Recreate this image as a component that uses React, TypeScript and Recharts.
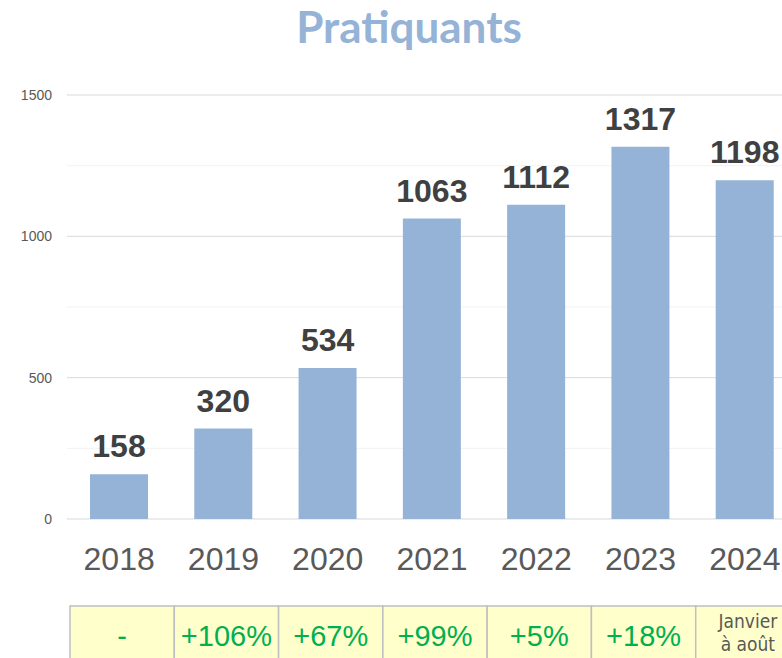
import { BarChart, Bar, XAxis, YAxis, CartesianGrid, LabelList } from 'recharts'

const years = ['2018', '2019', '2020', '2021', '2022', '2023', '2024']
const pratiquants = [158, 320, 534, 1063, 1112, 1317, 1198]
const evolution = ['-', '+106%', '+67%', '+99%', '+5%', '+18%', 'Janvier|à août']
const yTicks = [0, 500, 1000, 1500]
const minorTicks = [250, 750, 1250]

const data = years.map((year, i) => ({ year, value: pratiquants[i], evo: evolution[i] }))

const CHART_W = 797
const PLOT_LEFT = 67
const BAND = (CHART_W - PLOT_LEFT) / years.length

const YearTick = (props: any) => {
  const { x, y, payload, index } = props
  const evo = data[index]?.evo ?? ''
  const lines = evo.split('|')
  const left = x - BAND / 2 + 3
  return (
    <g>
      <text x={x} y={y + 51} textAnchor="middle" fontSize={32} fill="#595959" fontFamily="Arial, 'Liberation Sans', sans-serif">
        {payload.value}
      </text>
      <rect x={left} y={y + 87} width={BAND} height={60} fill="#FFFFCC" stroke="#BFBFBF" strokeWidth={1.5} />
      {lines.length > 1 ? (
        <text textAnchor="middle" fontSize={19} fill="#595959" fontFamily="'Liberation Sans Narrow', 'DejaVu Sans Condensed', 'Arial Narrow', sans-serif">
          <tspan x={left + BAND / 2} y={y + 109}>{lines[0]}</tspan>
          <tspan x={left + BAND / 2} y={y + 132}>{lines[1]}</tspan>
        </text>
      ) : (
        <text x={left + BAND / 2} y={y + 127} textAnchor="middle" fontSize={29} fill="#00B050" fontFamily="Arial, 'Liberation Sans', sans-serif">
          {evo}
        </text>
      )}
    </g>
  )
}

const ValueLabel = (props: any) => {
  const { x, y, width, value } = props
  return (
    <text x={x + width / 2} y={y - 17} textAnchor="middle" fontSize={32} fontWeight="bold" fill="#404040" fontFamily="Arial, 'Liberation Sans', sans-serif">
      {value}
    </text>
  )
}

export default function App() {
  return (
    <div style={{ position: 'absolute', left: 0, top: 0, width: 782, height: 658, overflow: 'hidden', background: '#fff' }}>
      <div
        style={{
          position: 'absolute',
          left: 0,
          width: 818,
          top: 0,
          textAlign: 'center',
          fontFamily: 'Lato, "Open Sans", sans-serif',
          fontWeight: 'bold',
          fontSize: 44,
          color: '#95B3D7',
          lineHeight: '52px',
        }}
      >
        Pratiquants
      </div>
      <BarChart
        width={CHART_W}
        height={658}
        data={data}
        margin={{ top: 95, right: 0, bottom: 0, left: 0 }}
        style={{ position: 'absolute', left: 0, top: 0 }}
      >
        <CartesianGrid vertical={false} horizontalValues={minorTicks} stroke="#F2F2F2" />
        <CartesianGrid vertical={false} horizontalValues={yTicks} stroke="#D9D9D9" />
        <XAxis
          dataKey="year"
          axisLine={false}
          tickLine={false}
          tickSize={0}
          tickMargin={0}
          height={139}
          interval={0}
          tick={<YearTick />}
        />
        <YAxis
          domain={[0, 1500]}
          ticks={yTicks}
          width={PLOT_LEFT}
          axisLine={false}
          tickLine={false}
          tickSize={0}
          tickMargin={15}
          tick={{ fontSize: 14, fill: '#595959', fontFamily: 'Arial, "Liberation Sans", sans-serif' }}
        />
        <Bar dataKey="value" fill="#95B3D7" barSize={58} isAnimationActive={false}>
          <LabelList dataKey="value" content={<ValueLabel />} />
        </Bar>
      </BarChart>
    </div>
  )
}
